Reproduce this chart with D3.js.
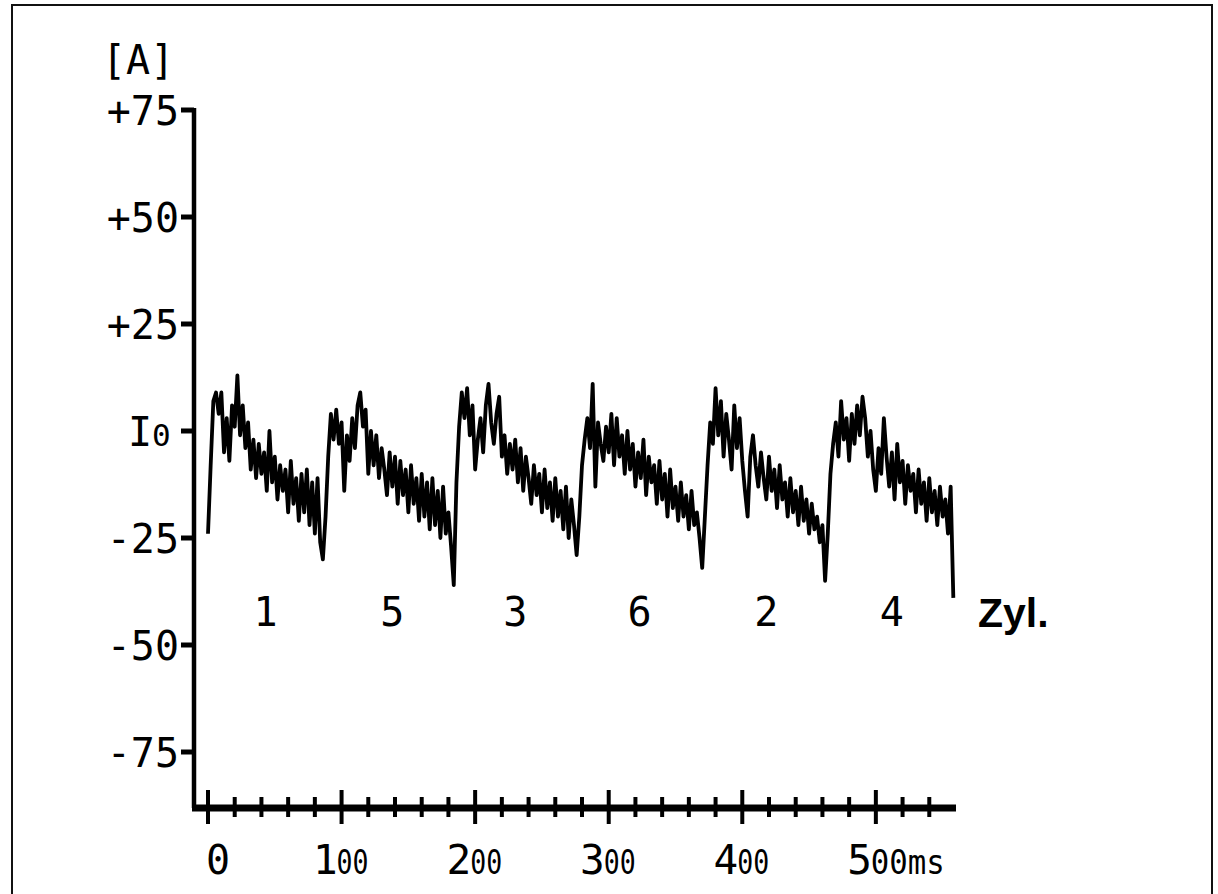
<!DOCTYPE html>
<html>
<head>
<meta charset="utf-8">
<script src="https://cdn.jsdelivr.net/npm/d3@7"></script>
<style>
  body { margin: 0; background: #fff; }
  svg { display: block; }
</style>
</head>
<body>
<svg width="1218" height="894"></svg>
<script>
var sampleMs = 2;
var currentA = [
  // cyl 1
  -24, -8, 7, 9, 4, 9, -5, 3, -7, 6,
  1, 13, -1, 6, -4, 2, -9, -2, -11, -3,
  -10, -5, -14, 0, -12, -6, -16, -8, -14, -9,
  -19, -7, -17, -11, -21, -10, -19, -9, -22, -12,
  -24, -11, -26, -30,
  // cyl 5
  -20, -6, 4, -2, 5, -3, 2, -14, -1, -7,
  3, -4, 6, 9, 1, 5, -10, 0, -8, -1,
  -11, -4, -9, -15, -5, -13, -6, -17, -7, -15,
  -9, -19, -8, -17, -11, -21, -10, -20, -12, -23,
  -11, -22, -14, -25, -13, -24, -19, -27, -36,
  // cyl 3
  -12, 1, 9, 3, 10, -1, 6, -9, -2, 3,
  -5, 6, 11, 2, -3, 4, 8, -6, -1, -10,
  -3, -9, -2, -12, -4, -14, -6, -11, -17, -8,
  -15, -10, -19, -9, -18, -12, -21, -11, -20, -14,
  -23, -13, -25, -16, -22, -29,
  // cyl 6
  -20, -8, -2, 3, -4, 11, -13, 2, -3, -7,
  1, -5, 4, -8, 3, -6, -1, -10, 0, -9,
  -3, -13, -5, -11, -2, -15, -6, -12, -8, -17,
  -7, -16, -10, -20, -9, -18, -13, -21, -12, -20,
  -15, -23, -14, -22, -19, -25,
  // cyl 2
  -32, -20, -8, 2, -3, 10, -1, 7, -6, 4,
  -2, -9, 6, -4, 3, -7, -14, -20, -6, -1,
  -8, -13, -5, -11, -16, -6, -14, -9, -18, -8,
  -16, -12, -20, -11, -19, -14, -22, -13, -21, -16,
  -24, -17, -23, -20, -26, -22, -35,
  // cyl 4
  -24, -10, -3, 2, -6, 7, -2, 3, -7, 4,
  -3, 6, -1, 8, 3, -6, 0, -9, -14, -4,
  -10, 3, -6, -13, -5, -16, -3, -12, -7, -17,
  -8, -14, -10, -19, -9, -17, -12, -21, -11, -19,
  -14, -22, -13, -20, -16, -24, -13, -39
];

var yTicks = [75, 50, 25, 0, -25, -50, -75];
var yTickLabels = ["+75", "+50", "+25", "I0", "-25", "-50", "-75"];
var xMajor = [0, 100, 200, 300, 400, 500];
var xMinor = d3.range(0, 541, 20);
var cylinders = ["1", "5", "3", "6", "2", "4"];
var cylinderMs = [43, 138, 230, 323, 418, 512];

var svg = d3.select("svg");
var mono = "DejaVu Sans Mono, monospace";

var x = d3.scaleLinear().domain([0, 560]).range([208, 956]);
var y = d3.scaleLinear().domain([-75, 75]).range([752, 110]);
var axisX = 194, axisY = 808;

// frame
svg.append("rect")
  .attr("x", 12).attr("y", 5)
  .attr("width", 1200).attr("height", 920)
  .attr("fill", "none")
  .attr("stroke", "#111")
  .attr("stroke-width", 2);

// y axis
svg.append("line")
  .attr("x1", axisX).attr("x2", axisX)
  .attr("y1", y(75) - 2).attr("y2", axisY)
  .attr("stroke", "#000").attr("stroke-width", 4.5);

svg.append("g").selectAll("line")
  .data(yTicks).enter().append("line")
  .attr("x1", axisX - 13).attr("x2", axisX)
  .attr("y1", function (d) { return y(d); })
  .attr("y2", function (d) { return y(d); })
  .attr("stroke", "#000").attr("stroke-width", 5);

var yLab = svg.append("g")
  .attr("font-family", mono).attr("font-size", 40).attr("fill", "#000");

yTickLabels.forEach(function (lab, i) {
  var v = yTicks[i];
  if (lab === "I0") {
    var t = yLab.append("text")
      .attr("x", axisX - 66).attr("y", y(v) + 15);
    t.append("tspan").text("I");
    t.append("tspan").attr("font-size", 31).text("0");
  } else {
    yLab.append("text")
      .attr("x", axisX - 15).attr("y", y(v) + 15)
      .attr("text-anchor", "end")
      .text(lab);
  }
});

yLab.append("text").attr("x", 102).attr("y", 74).text("[A]");

// x axis
svg.append("line")
  .attr("x1", axisX - 2).attr("x2", x(560))
  .attr("y1", axisY).attr("y2", axisY)
  .attr("stroke", "#000").attr("stroke-width", 7);

svg.append("g").selectAll("line")
  .data(xMinor).enter().append("line")
  .attr("x1", function (d) { return x(d); })
  .attr("x2", function (d) { return x(d); })
  .attr("y1", function (d) { return d % 100 === 0 ? axisY - 18 : axisY - 11; })
  .attr("y2", function (d) { return d % 100 === 0 ? axisY + 16 : axisY + 9; })
  .attr("stroke", "#000").attr("stroke-width", 4);

var xLab = svg.append("g")
  .attr("font-family", mono).attr("fill", "#000");

xMajor.forEach(function (v) {
  var cx = x(v), base = 874;
  if (v === 0) {
    xLab.append("text").attr("x", cx - 2).attr("y", base)
      .attr("font-size", 40).text("0");
    return;
  }
  var s = String(v);
  xLab.append("text").attr("x", cx - 4).attr("y", base)
    .attr("text-anchor", "end").attr("font-size", 41).text(s.charAt(0));
  var tail = v === 500 ? s.slice(1) + "ms" : s.slice(1);
  xLab.append("text").attr("x", cx - 5).attr("y", base)
    .attr("font-size", 34)
    .attr("textLength", v === 500 ? 74 : 32)
    .attr("lengthAdjust", "spacingAndGlyphs")
    .text(tail);
});

// cylinder numbers
svg.append("g").selectAll("text")
  .data(cylinders).enter().append("text")
  .attr("x", function (d, i) { return x(cylinderMs[i]); })
  .attr("y", 626)
  .attr("text-anchor", "middle")
  .attr("font-family", mono).attr("font-size", 40)
  .text(function (d) { return d; });

svg.append("text")
  .attr("x", 978).attr("y", 627)
  .attr("font-family", "Liberation Sans, Arial, sans-serif")
  .attr("font-weight", "bold").attr("font-size", 41)
  .text("Zyl.");

// trace
var line = d3.line()
  .x(function (d, i) { return x(i * sampleMs); })
  .y(function (d) { return y(d); });

svg.append("path")
  .datum(currentA)
  .attr("d", line)
  .attr("fill", "none")
  .attr("stroke", "#000")
  .attr("stroke-width", 3.8)
  .attr("stroke-linejoin", "round");
</script>
</body>
</html>
